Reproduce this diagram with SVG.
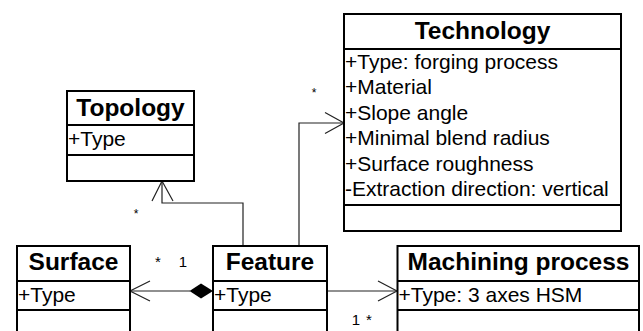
<svg xmlns="http://www.w3.org/2000/svg" width="643" height="331" viewBox="0 0 643 331">
<style>
.box{fill:#fff;stroke:#000;stroke-width:2}
.div{stroke:#000;stroke-width:2}
.hdr{font-family:"Liberation Sans",Arial,sans-serif;font-weight:bold;font-size:24.5px;text-anchor:middle;fill:#000}
.att{font-family:"Liberation Sans",Arial,sans-serif;font-size:21px;fill:#000}
.lbl{font-family:"Liberation Sans",Arial,sans-serif;font-size:15px;fill:#000}
.sm{font-family:"Liberation Sans",Arial,sans-serif;font-size:12px;fill:#000}
.con{fill:none;stroke:#222;stroke-width:1.2}
</style>
<rect width="643" height="331" fill="#fff"/>
<g id="connectors">
<path class="con" d="M243,246 V203 H162 V181"/>
<path class="con" d="M152,201 L162,181 L173,201"/>
<path class="con" d="M299,246 V123 H344"/>
<path class="con" d="M325,112.5 L344,123 L325,133.5"/>
<path class="con" d="M130,291 H190"/>
<path class="con" d="M150,281 L130,291 L150,301"/>
<polygon points="213,291 201,283.5 189.5,291 201,298.5" fill="#000"/>
<path class="con" d="M327,291 H397"/>
<path class="con" d="M378,281 L397,291 L378,301"/>
<text class="sm" x="136" y="218" text-anchor="middle">*</text>
<text class="sm" x="314" y="97" text-anchor="middle">*</text>
<text class="lbl" x="158" y="267" text-anchor="middle">*</text>
<text class="lbl" x="183" y="267" text-anchor="middle">1</text>
<text class="lbl" x="356" y="325" text-anchor="middle">1</text>
<text class="lbl" x="369" y="325" text-anchor="middle">*</text>
</g>
<g id="topology">
<rect class="box" x="67" y="91" width="127" height="90"/>
<line class="div" x1="67" y1="125" x2="194" y2="125"/>
<line class="div" x1="67" y1="155" x2="194" y2="155"/>
<text class="hdr" x="130.5" y="116">Topology</text>
<text class="att" x="68" y="145.5">+Type</text>
</g>
<g id="technology">
<rect class="box" x="344" y="14" width="277" height="217"/>
<line class="div" x1="344" y1="49" x2="621" y2="49"/>
<line class="div" x1="344" y1="205" x2="621" y2="205"/>
<text class="hdr" x="482.5" y="39">Technology</text>
<text class="att" x="345" y="68.5">+Type: forging process</text>
<text class="att" x="345" y="94">+Material</text>
<text class="att" x="345" y="119.5">+Slope angle</text>
<text class="att" x="345" y="145">+Minimal blend radius</text>
<text class="att" x="345" y="170.5">+Surface roughness</text>
<text class="att" x="345" y="196">-Extraction direction: vertical</text>
</g>
<g id="surface">
<rect class="box" x="17" y="246" width="113" height="100"/>
<line class="div" x1="17" y1="281" x2="130" y2="281"/>
<line class="div" x1="17" y1="310" x2="130" y2="310"/>
<text class="hdr" x="73.5" y="270">Surface</text>
<text class="att" x="18" y="301.5">+Type</text>
</g>
<g id="feature">
<rect class="box" x="213" y="246" width="114" height="100"/>
<line class="div" x1="213" y1="281" x2="327" y2="281"/>
<line class="div" x1="213" y1="310" x2="327" y2="310"/>
<text class="hdr" x="270" y="270">Feature</text>
<text class="att" x="214" y="301.5">+Type</text>
</g>
<g id="machining">
<rect class="box" x="397.5" y="246" width="241.5" height="100"/>
<line class="div" x1="397.5" y1="281" x2="639" y2="281"/>
<line class="div" x1="397.5" y1="310" x2="639" y2="310"/>
<text class="hdr" x="518.5" y="270">Machining process</text>
<text class="att" x="398.5" y="301.5">+Type: 3 axes HSM</text>
</g>
</svg>
